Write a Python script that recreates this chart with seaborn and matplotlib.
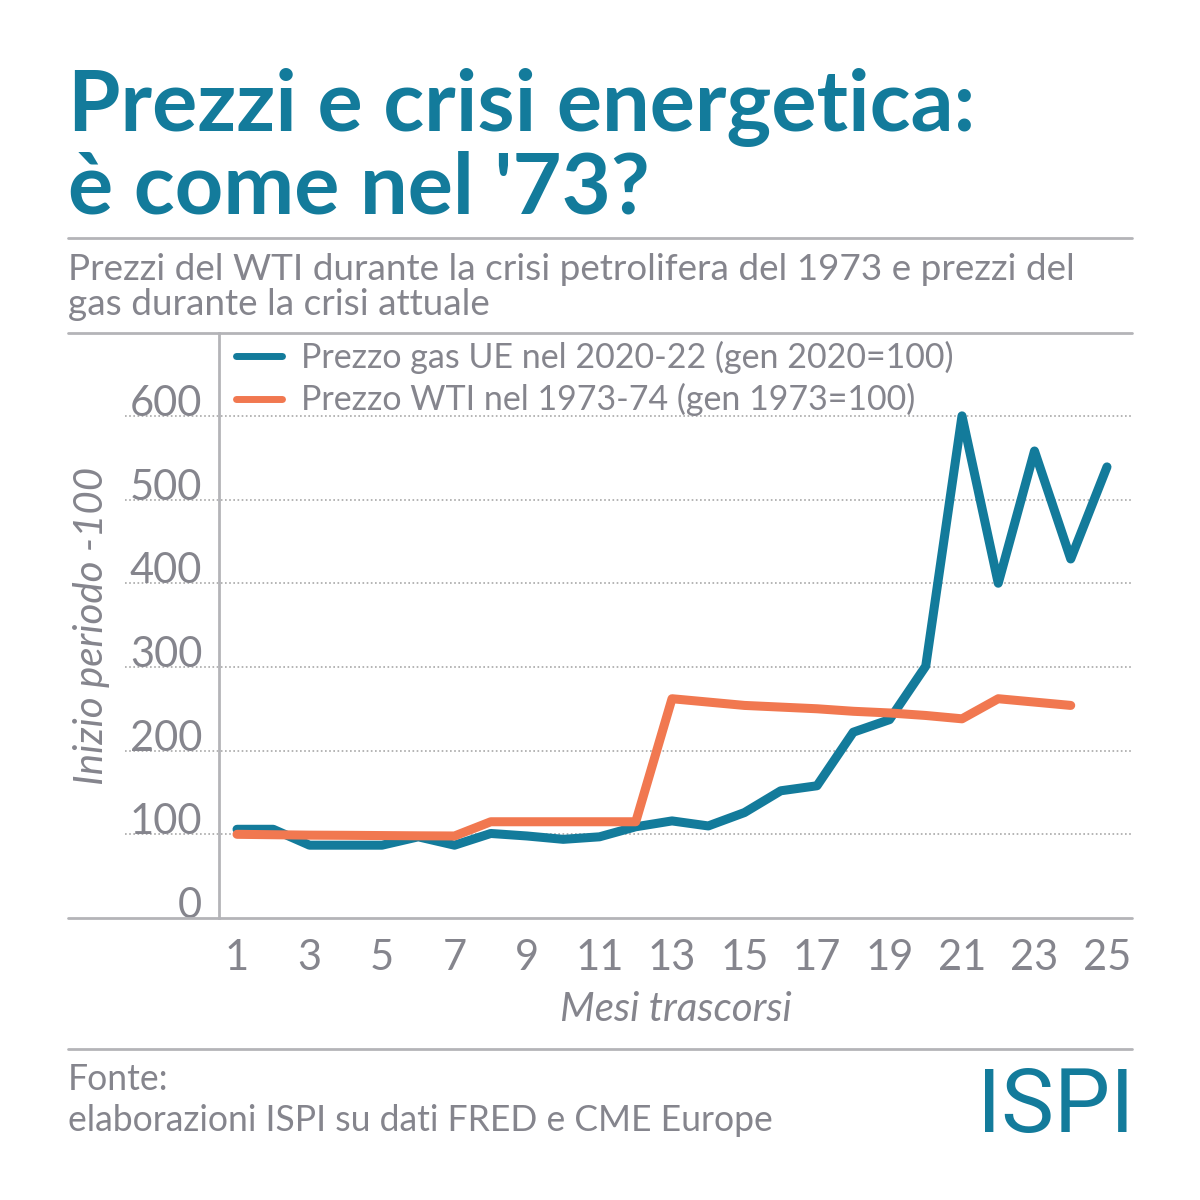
import numpy as np
import pandas as pd
import matplotlib
matplotlib.use('Agg')
import matplotlib.pyplot as plt
import seaborn as sns
from matplotlib.lines import Line2D

# data
mesi_gas = list(range(1, 26))
gas_ue = [106, 106, 87, 87, 87, 97, 87, 101, 98, 94, 97, 109, 116,
          110, 126, 152, 158, 222, 237, 301, 600, 400, 558, 429, 539]
mesi_wti = list(range(1, 25))
wti = [100, 99.5, 99, 98.8, 98.5, 98.2, 98, 115, 115, 115, 115, 115, 262,
       258, 254, 252, 250, 247, 245, 242, 238, 262, 258, 254]
etichette = ['Prezzo gas UE nel 2020-22 (gen 2020=100)',
             'Prezzo WTI nel 1973-74 (gen 1973=100)']
x_ticks = list(range(1, 26, 2))
y_ticks = [0, 100, 200, 300, 400, 500, 600]

df = pd.concat([
    pd.DataFrame({'mese': mesi_gas, 'valore': gas_ue, 'serie': etichette[0]}),
    pd.DataFrame({'mese': mesi_wti, 'valore': wti, 'serie': etichette[1]}),
])

TEAL = '#137b9b'
ORANGE = '#f17850'
GREY = '#85858d'
RULE = '#b4b4b8'

sns.set_style('white')
plt.rcParams['font.family'] = ['Lato', 'DejaVu Sans']

fig = plt.figure(figsize=(12, 12), dpi=100)
W, H = 1200, 1200
ax = fig.add_axes([219 / W, 1 - 918 / H, (1132 - 219) / W, (918 - 333) / H])

sns.lineplot(data=df, x='mese', y='valore', hue='serie',
             palette=[TEAL, ORANGE], linewidth=6.5, ax=ax, legend=False)

ax.set_xlim(0.503, 25.69)
ax.set_ylim(0, 699)

# dotted gridlines extending under the tick labels
for v in y_ticks[1:]:
    ax.axhline(v, xmin=-0.103, xmax=1, color='#a8a8a8', lw=1.2,
               ls=(0, (1, 1.5)), clip_on=False, zorder=0)
ax.axhline(0, xmin=-0.165, xmax=1, color=RULE, lw=2, clip_on=False)

for s in ['top', 'right', 'bottom']:
    ax.spines[s].set_visible(False)
ax.spines['left'].set_color(RULE)
ax.spines['left'].set_linewidth(2)

ax.set_xticks(x_ticks)
ax.set_xticklabels([str(t) for t in x_ticks])
ax.set_yticks(y_ticks)
ax.set_yticklabels([str(t) for t in y_ticks])
ax.tick_params(axis='both', length=0, colors=GREY, labelsize=30)
ax.tick_params(axis='x', pad=15)
ax.tick_params(axis='y', pad=12)
for t in ax.get_yticklabels():
    t.set_verticalalignment('baseline')

ax.set_xlabel('Mesi trascorsi', fontsize=29, color=GREY, style='italic', labelpad=10)
ax.set_ylabel('Inizio periodo -100', fontsize=29, color=GREY, style='italic', labelpad=14)

handles = [Line2D([], [], color=TEAL, lw=5), Line2D([], [], color=ORANGE, lw=5)]
leg = ax.legend(handles, etichette, loc='upper left', bbox_to_anchor=(-0.007, 1.027),
                frameon=False, fontsize=24.5, handlelength=1.35, handletextpad=0.55,
                labelspacing=0.27, borderaxespad=0.3)
for t in leg.get_texts():
    t.set_color(GREY)

# title, subtitle and rules
fig.text(68 / W, 1 - 130 / H, 'Prezzi e crisi energetica:',
         fontsize=61, fontweight='bold', color=TEAL, va='baseline')
fig.text(68 / W, 1 - 213 / H, "è come nel '73?",
         fontsize=61, fontweight='bold', color=TEAL, va='baseline')
fig.text(68 / W, 1 - 280 / H,
         'Prezzi del WTI durante la crisi petrolifera del 1973 e prezzi del',
         fontsize=26.6, color=GREY, va='baseline')
fig.text(68 / W, 1 - 315 / H, 'gas durante la crisi attuale',
         fontsize=26.6, color=GREY, va='baseline')
fig.text(68 / W, 1 - 1090 / H, 'Fonte:',
         fontsize=25.6, color=GREY, va='baseline')
fig.text(68 / W, 1 - 1131 / H, 'elaborazioni ISPI su dati FRED e CME Europe',
         fontsize=25.6, color=GREY, va='baseline')
fig.text(1134 / W, 1 - 1132 / H, 'ISPI', fontsize=64, color=TEAL, ha='right',
         va='baseline', family=['Roboto', 'DejaVu Sans'])

for yy in [238, 333, 1049]:
    fig.add_artist(Line2D([68 / W, 1132 / W], [1 - yy / H, 1 - yy / H],
                          color=RULE, lw=2))

fig.savefig('out.png', dpi=100, facecolor='white')
